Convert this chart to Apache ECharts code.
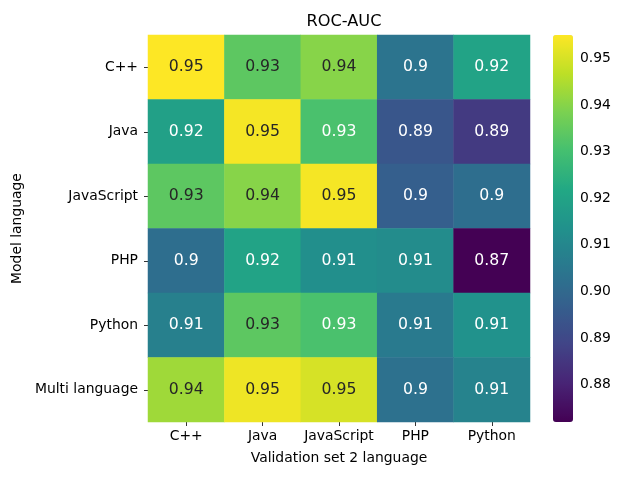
<!DOCTYPE html>
<html>
<head>
<meta charset="utf-8">
<script src="https://cdn.jsdelivr.net/npm/echarts@6/dist/echarts.min.js"></script>
<style>html,body{margin:0;padding:0;background:#fff;}#c{width:640px;height:480px;}</style>
</head>
<body>
<div id="c"></div>
<script>
const valLangs = ['C++', 'Java', 'JavaScript', 'PHP', 'Python'];
const modelLangs = ['C++', 'Java', 'JavaScript', 'PHP', 'Python', 'Multi language'];
// rows: model language, columns: validation set 2 language
const rowCpp    = [0.955, 0.934, 0.940, 0.904, 0.920];
const rowJava   = [0.919, 0.954, 0.931, 0.894, 0.886];
const rowJS     = [0.934, 0.940, 0.954, 0.897, 0.902];
const rowPHP    = [0.902, 0.920, 0.913, 0.912, 0.872];
const rowPython = [0.908, 0.934, 0.931, 0.906, 0.914];
const rowMulti  = [0.943, 0.953, 0.950, 0.903, 0.909];
const rows = [rowCpp, rowJava, rowJS, rowPHP, rowPython, rowMulti];
const colorbarTicks = [0.88, 0.89, 0.90, 0.91, 0.92, 0.93, 0.94, 0.95];

const viridis = ['#440154','#482475','#414487','#355f8d','#2a788e','#21918c','#22a884','#44bf70','#7ad151','#bddf26','#fde725'];
const FONT = 'DejaVu Sans';

const all = rows.flat();
const vmin = Math.min(...all), vmax = Math.max(...all);

const data = [];
rows.forEach((r, yi) => r.forEach((v, xi) => {
  data.push({
    value: [xi, yi, v],
    label: { color: v >= 0.933 ? '#262626' : '#ffffff' }
  });
}));

const chart = echarts.init(document.getElementById('c'), null, {renderer: 'canvas'});
chart.setOption({
  backgroundColor: '#ffffff',
  animation: false,
  title: {
    text: 'ROC-AUC', left: 339, top: 9, textAlign: 'center',
    textStyle: {fontFamily: FONT, fontSize: 16.2, fontWeight: 'normal', color: '#000'}
  },
  grid: [
    {left: 148, top: 35, width: 382, height: 387},
    {left: 553, top: 35, width: 20, height: 387}
  ],
  xAxis: [
    {type: 'category', data: valLangs, gridIndex: 0,
     name: 'Validation set 2 language', nameLocation: 'middle', nameGap: 29,
     nameTextStyle: {fontFamily: FONT, fontSize: 13.9, color: '#000'},
     axisLine: {show: false}, splitLine: {show: false}, splitArea: {show: false},
     axisTick: {show: true, alignWithLabel: true, length: 4, lineStyle: {color: '#000', width: 0.8}},
     axisLabel: {fontFamily: FONT, fontSize: 13.9, color: '#000', margin: 7, interval: 0}},
    {type: 'value', gridIndex: 1, show: false, min: 0, max: 1}
  ],
  yAxis: [
    {type: 'category', data: modelLangs, gridIndex: 0, inverse: true,
     name: 'Model language', nameLocation: 'middle', nameGap: 119, nameRotate: 90,
     nameTextStyle: {fontFamily: FONT, fontSize: 13.9, color: '#000'},
     axisLine: {show: false}, splitLine: {show: false}, splitArea: {show: false},
     axisTick: {show: true, alignWithLabel: true, length: 4, lineStyle: {color: '#000', width: 0.8}},
     axisLabel: {fontFamily: FONT, fontSize: 13.9, color: '#000', margin: 10, interval: 0}},
    {type: 'value', gridIndex: 1, position: 'right', min: vmin, max: vmax,
     axisLine: {show: false}, splitLine: {show: false},
     axisTick: {show: true, length: 4, customValues: colorbarTicks, lineStyle: {color: '#000', width: 0.8}},
     axisLabel: {fontFamily: FONT, fontSize: 13.9, color: '#000', margin: 7,
       customValues: colorbarTicks, formatter: v => v.toFixed(2)}}
  ],
  visualMap: {
    type: 'continuous', min: vmin, max: vmax, seriesIndex: 0,
    calculable: false, orient: 'vertical', left: 553, top: 35,
    itemWidth: 20, itemHeight: 387, padding: 0, text: null, showLabel: false,
    inRange: {color: viridis}
  },
  series: [{
    type: 'heatmap', xAxisIndex: 0, yAxisIndex: 0, data: data,
    label: {show: true, fontFamily: FONT, fontSize: 15.7,
      formatter: p => String(parseFloat(p.value[2].toPrecision(2)))},
    itemStyle: {borderWidth: 0},
    emphasis: {disabled: true}
  }]
});
</script>
</body>
</html>
